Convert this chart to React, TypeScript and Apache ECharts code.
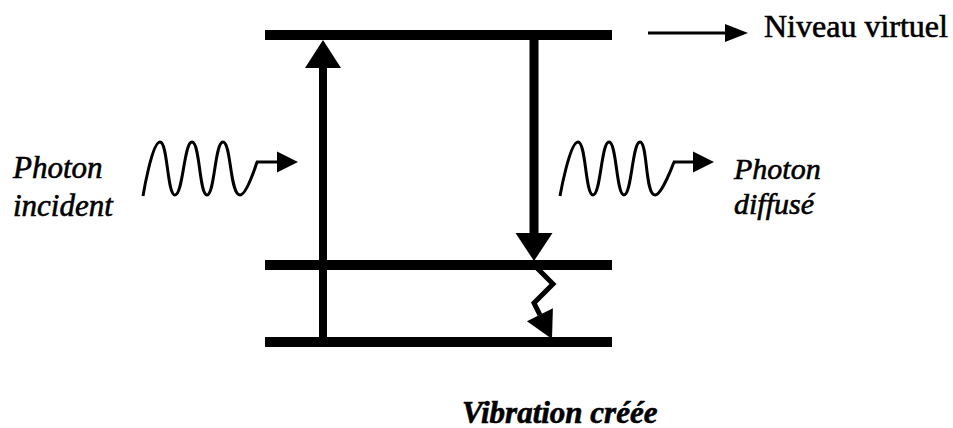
import React, { useEffect, useRef } from "react";
import * as echarts from "echarts";

// ---- Data (diagram coordinates, in the drawing's own x/y units) ----
const levelNames = ["Niveau virtuel", "v = 1", "v = 0"];
const levelY = [35, 265, 342];
const levelX = [265, 612];

// straight arrows: [x1, y1, x2(tip), y2(tip)]
const arrowNames = ["incident", "diffuse", "legend", "incidentTail", "diffuseTail"];
const arrowRows = [
  [323, 342, 323, 40],
  [534, 35, 534, 261],
  [648, 33, 748, 33],
  [256, 162, 298, 162],
  [673, 162, 714, 162],
];

// relaxation zigzag (last point is the tip)
const relaxX = [535, 553, 534, 552];
const relaxY = [266, 284, 303, 339];

// photon waves: peaks / troughs
const incidentWaveX = [143, 160, 175, 192, 207, 223, 240, 257];
const incidentWaveY = [196, 142, 195, 142, 195, 142, 195, 162];
const diffuseWaveX = [560, 578, 593, 609, 624, 640, 655, 674];
const diffuseWaveY = [196, 142, 195, 142, 195, 142, 195, 162];

// texts
const labelTexts = ["Niveau virtuel", "Photon", "incident", "Photon", "diffusé", "Vibration créée"];

// ---- Styles (kept apart from data) ----
const W = 953;
const H = 428;
const INK = "#000";
const SERIF = "Liberation Serif";
const arrowStyle: Record<string, { w: number; len: number; head: number }> = {
  incident: { w: 8, len: 28, head: 36 },
  diffuse: { w: 9, len: 28, head: 37 },
  legend: { w: 3, len: 23, head: 18 },
  incidentTail: { w: 3, len: 21, head: 21 },
  diffuseTail: { w: 3, len: 21, head: 21 },
};
const labelStyle = [
  { x: 764, y: 26, size: 32, style: "normal", weight: "normal" },
  { x: 13, y: 167, size: 31, style: "italic", weight: "normal" },
  { x: 13, y: 205, size: 31, style: "italic", weight: "normal" },
  { x: 734, y: 168, size: 30, style: "italic", weight: "normal" },
  { x: 734, y: 203, size: 30, style: "italic", weight: "normal" },
  { x: 462, y: 412, size: 31, style: "italic", weight: "bold" },
];

function headPoints(tip: number[], from: number[], len: number, width: number) {
  const dx = tip[0] - from[0];
  const dy = tip[1] - from[1];
  const L = Math.sqrt(dx * dx + dy * dy) || 1;
  const ux = dx / L;
  const uy = dy / L;
  const bx = tip[0] - ux * len;
  const by = tip[1] - uy * len;
  const nx = -uy * (width / 2);
  const ny = ux * (width / 2);
  return {
    base: [bx, by],
    points: [
      [tip[0], tip[1]],
      [bx + nx, by + ny],
      [bx - nx, by - ny],
    ],
  };
}

export default function App() {
  const ref = useRef<HTMLDivElement>(null);

  useEffect(() => {
    if (!ref.current) return;
    const chart = echarts.init(ref.current, null, { renderer: "svg" });

    const option: any = {
      animation: false,
      backgroundColor: "#fff",
      grid: { left: 0, right: 0, top: 0, bottom: 0 },
      xAxis: { type: "value", min: 0, max: W, show: false },
      yAxis: { type: "value", min: 0, max: H, inverse: true, show: false },
      series: [
        {
          type: "custom",
          name: "levels",
          data: levelY.map((y, i) => ({ name: levelNames[i], value: [levelX[0], levelX[1], y] })),
          renderItem: (_p: any, api: any) => {
            const a = api.coord([api.value(0), api.value(2)]);
            const b = api.coord([api.value(1), api.value(2)]);
            return {
              type: "rect",
              shape: { x: a[0], y: a[1] - 5, width: b[0] - a[0], height: 10 },
              style: { fill: INK },
            };
          },
        },
        {
          type: "custom",
          name: "arrows",
          data: arrowRows.map((r, i) => ({ name: arrowNames[i], value: r })),
          renderItem: (params: any, api: any) => {
            const st = arrowStyle[arrowNames[params.dataIndex]];
            const p1 = api.coord([api.value(0), api.value(1)]);
            const p2 = api.coord([api.value(2), api.value(3)]);
            const h = headPoints(p2, p1, st.len, st.head);
            return {
              type: "group",
              children: [
                {
                  type: "line",
                  shape: { x1: p1[0], y1: p1[1], x2: h.base[0], y2: h.base[1] },
                  style: { stroke: INK, lineWidth: st.w },
                },
                { type: "polygon", shape: { points: h.points }, style: { fill: INK } },
              ],
            };
          },
        },
        {
          type: "custom",
          name: "relaxation",
          data: [0],
          renderItem: (_p: any, api: any) => {
            const pts = relaxX.map((x, i) => api.coord([x, relaxY[i]]));
            const n = pts.length;
            const h = headPoints(pts[n - 1], pts[n - 2], 27, 29);
            const shaft = pts.slice(0, n - 1).concat([h.base]);
            return {
              type: "group",
              children: [
                {
                  type: "polyline",
                  shape: { points: shaft },
                  style: { stroke: INK, lineWidth: 5, fill: null, lineJoin: "miter" },
                },
                { type: "polygon", shape: { points: h.points }, style: { fill: INK } },
              ],
            };
          },
        },
        {
          type: "line",
          name: "incidentWave",
          data: incidentWaveX.map((x, i) => [x, incidentWaveY[i]]),
          smooth: 0.5,
          symbol: "none",
          lineStyle: { color: INK, width: 3 },
        },
        {
          type: "line",
          name: "diffuseWave",
          data: diffuseWaveX.map((x, i) => [x, diffuseWaveY[i]]),
          smooth: 0.5,
          symbol: "none",
          lineStyle: { color: INK, width: 3 },
        },
      ],
      graphic: labelTexts.map((t, i) => ({
        type: "text",
        x: labelStyle[i].x,
        y: labelStyle[i].y,
        style: {
          text: t,
          fill: INK,
          fontFamily: SERIF,
          fontSize: labelStyle[i].size,
          fontStyle: labelStyle[i].style,
          fontWeight: labelStyle[i].weight,
          stroke: INK,
          lineWidth: 0.6,
          verticalAlign: "middle",
          align: "left",
        },
      })),
    };

    chart.setOption(option);
    return () => chart.dispose();
  }, []);

  return (
    <div
      ref={ref}
      style={{ position: "fixed", left: 0, top: 0, width: W, height: H, background: "#fff" }}
    />
  );
}
